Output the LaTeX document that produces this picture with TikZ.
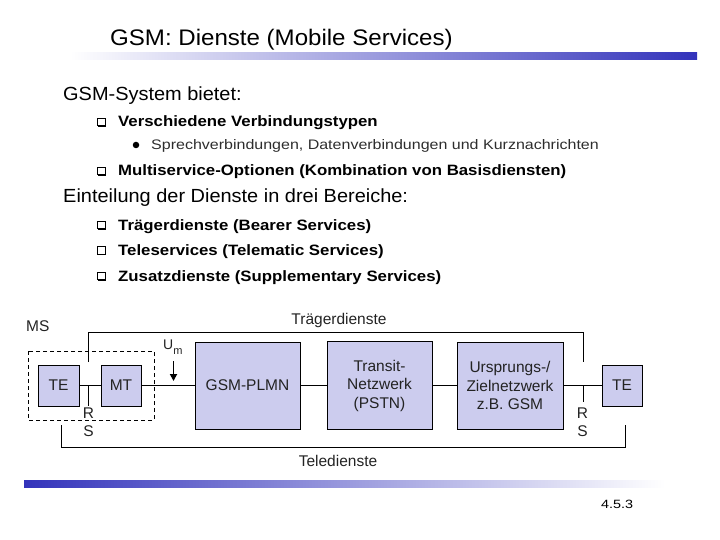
\documentclass[tikz,border=0pt]{standalone}
\usepackage{fontspec}
\setmainfont{Liberation Sans}
\usetikzlibrary{arrows.meta}
\definecolor{boxfill}{RGB}{204,204,238}
\definecolor{barblue}{RGB}{51,51,187}
\definecolor{barmid}{RGB}{190,190,228}
\definecolor{dtext}{RGB}{35,35,35}
\definecolor{subtext}{RGB}{45,45,45}
\tikzset{
  chkbox/.pic={
    \draw[line width=0.6pt] (-4,-4) rectangle (3.6,3.6);
    \draw[line width=1.1pt] (4.3,-3.4) -- (4.3,4.3) -- (-3.4,4.3);
  }
}
\begin{document}
\begin{tikzpicture}[x=1pt,y=-1pt,
  ttl/.style={anchor=base west,inner sep=0,font=\fontsize{22.5}{27}\selectfont},
  head/.style={anchor=base west,inner sep=0,font=\fontsize{19}{23}\selectfont},
  item/.style={anchor=base west,inner sep=0,font=\bfseries\fontsize{15}{18}\selectfont},
  sub/.style={anchor=base west,inner sep=0,text=subtext,font=\fontsize{13.8}{17}\selectfont},
  blk/.style={draw=black,fill=boxfill,line width=0.9pt,inner sep=0,align=center,text=dtext,font=\fontsize{15.5}{18.5}\selectfont},
  lbl/.style={inner sep=0,text=dtext,font=\fontsize{15.5}{18.5}\selectfont},
  wire/.style={line width=1pt}]
\useasboundingbox (0,0) rectangle (720,540);
% bars
\shade[left color=white,middle color=barmid,right color=barblue] (70,53) rectangle (697,60);
\shade[left color=barblue,middle color=barmid,right color=white] (24,480) rectangle (665,487);
% title
\node[ttl] (title) at (110,46) {\scalebox{1.07}[1]{GSM: Dienste (Mobile Services)}};
% text
\node[head] (h1) at (63,101) {\scalebox{1.05}[1]{GSM-System bietet:}};
\pic at (101.5,122) {chkbox};
\node[item] (i1) at (118,127) {\scalebox{1.12}[1]{Verschiedene Verbindungstypen}};
\node[circle,fill=black,inner sep=0,minimum size=6.5] (b1) at (136,145) {};
\node[sub] (s1) at (151,150) {\scalebox{1.16}[1]{Sprechverbindungen, Datenverbindungen und Kurznachrichten}};
\pic at (101.5,171) {chkbox};
\node[item] (i2) at (118,176) {\scalebox{1.12}[1]{Multiservice-Optionen (Kombination von Basisdiensten)}};
\node[head] (h2) at (63,202.5) {\scalebox{1.05}[1]{Einteilung der Dienste in drei Bereiche:}};
\pic at (101.5,225) {chkbox};
\node[item] (i3) at (118,230) {\scalebox{1.12}[1]{Trägerdienste (Bearer Services)}};
\pic at (101.5,250.5) {chkbox};
\node[item] (i4) at (118,255.5) {\scalebox{1.12}[1]{Teleservices (Telematic Services)}};
\pic at (101.5,276) {chkbox};
\node[item] (i5) at (118,281) {\scalebox{1.12}[1]{Zusatzdienste (Supplementary Services)}};
% diagram labels
\node[lbl,anchor=base west] (ms) at (26,331) {MS};
\node[lbl,anchor=base] (tragl) at (339,324) {Trägerdienste};
\node[lbl,anchor=base] (telel) at (338,466) {Teledienste};
\node[lbl,anchor=base west,font=\fontsize{14}{16}\selectfont] (um) at (163,349) {U\raisebox{-5pt}{\fontsize{11}{11}\selectfont m}};
% dashed MS box
\draw[line width=0.9pt,dash pattern=on 4pt off 3pt] (28,351) rectangle (154,420);
% blocks
\node[blk,minimum width=41,minimum height=41] (tel) at (58.5,385.5) {TE};
\node[blk,minimum width=40,minimum height=41] (mt) at (121,385.5) {MT};
\node[blk,minimum width=105,minimum height=87] (gsm) at (247.5,385.5) {GSM-PLMN};
\node[blk,minimum width=105,minimum height=88] (tr) at (379.5,385.5) {Transit-\\Netzwerk\\(PSTN)};
\node[blk,minimum width=106,minimum height=87] (ur) at (510,385.5) {Ursprungs-/\\Zielnetzwerk\\z.B. GSM};
\node[blk,minimum width=40,minimum height=41] (ter) at (622,385.5) {TE};
% wires
\draw[wire] (tel) -- (mt);
\draw[wire] (mt) -- (gsm);
\draw[wire] (gsm) -- (tr);
\draw[wire] (tr) -- (ur);
\draw[wire] (ur) -- (ter);
% R/S reference points
\coordinate (j1) at (88,385.5);
\coordinate (j1e) at (88,406);
\coordinate (j2) at (583,385.5);
\coordinate (j2e) at (583,402);
\draw[wire] (j1) -- (j1e);
\draw[wire] (j2) -- (j2e);
\node[lbl] (r1) at (88.5,413) {R};
\node[lbl] (sa) at (88.5,431) {S};
\node[lbl] (r2) at (582.5,413.5) {R};
\node[lbl] (sb) at (582.5,431.5) {S};
% brackets
\coordinate (tb1) at (88,362);
\coordinate (tb2) at (583,362);
\coordinate (tbtop) at (0,332);
\draw[wire] (tb1) -- (tb1 |- tbtop) -- (tb2 |- tbtop) -- (tb2);
\coordinate (bb1) at (61,425);
\coordinate (bb2) at (625,425);
\coordinate (bbot) at (0,447.5);
\draw[wire] (bb1) -- (bb1 |- bbot) -- (bb2 |- bbot) -- (bb2);
% Um arrow
\coordinate (a1) at (173.5,361);
\coordinate (a2) at (173.5,381);
\draw[line width=1.8pt,-{Triangle[length=7pt,width=7pt]}] (a1) -- (a2);
% page number
\node[anchor=base west,inner sep=0,font=\fontsize{12}{14}\selectfont] (pg) at (601,508) {\scalebox{1.2}[1]{4.5.3}};
\end{tikzpicture}
\end{document}
